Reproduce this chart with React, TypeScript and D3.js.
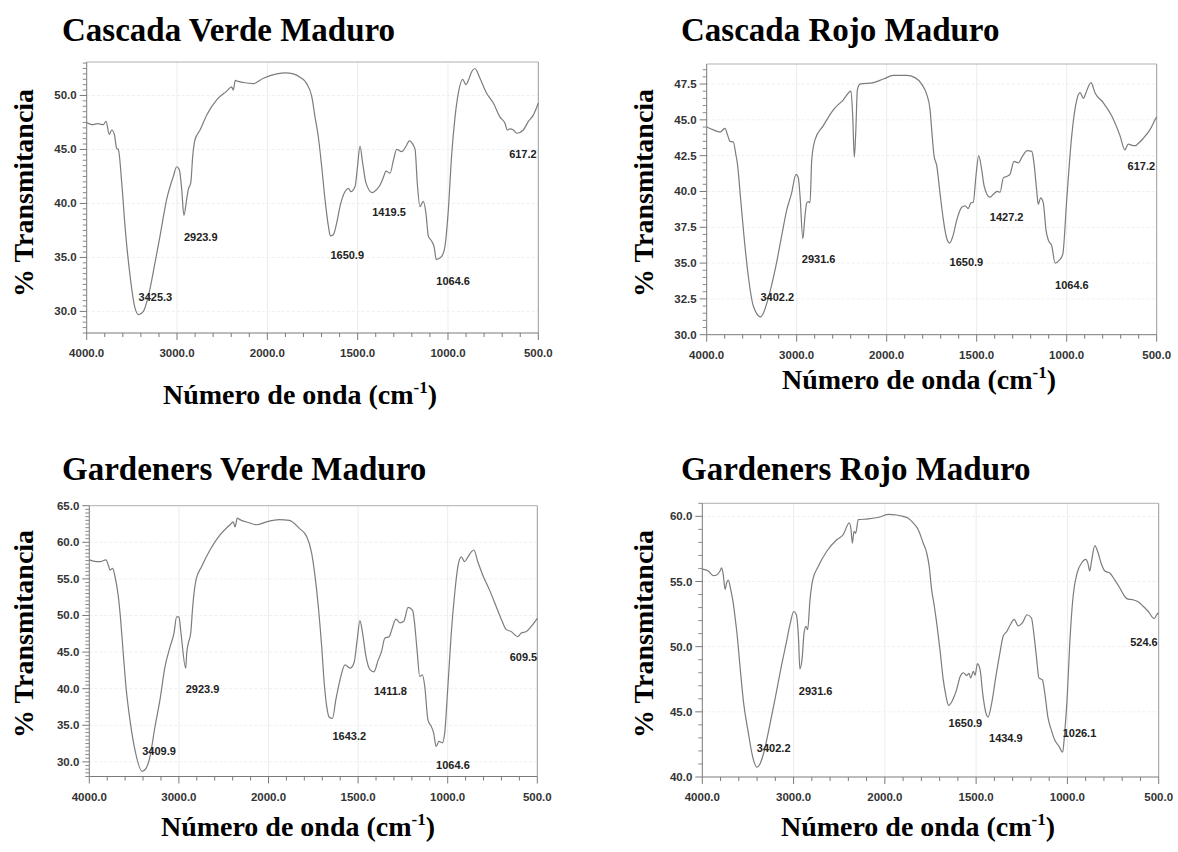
import React from 'react';
import * as d3 from 'd3';

type Pt = [number, number];

// FTIR spectra: [wavenumber (cm-1), % transmittance]
const cascadaVerde: Pt[] = [
  [4000, 47.5], [3940, 47.3], [3880, 47.4], [3816, 47.3], [3786, 47.6], [3750, 46.4], [3723, 46.8],
  [3694, 46.4], [3668, 45.1], [3650, 45.0], [3612, 41.9], [3576, 37.9], [3520, 33.3], [3465, 30.3],
  [3425.3, 29.7], [3373, 30.0], [3318, 31.4], [3244, 34.5], [3188, 37.0], [3114, 40.4], [3041, 42.5],
  [3003, 43.4], [2974, 43.1], [2948, 41.3], [2923.9, 38.9], [2893, 40.4], [2875, 41.3], [2848, 41.9],
  [2826, 44.4], [2801, 45.9], [2745, 46.8], [2671, 48.2], [2561, 49.6], [2450, 50.4], [2395, 50.8],
  [2377, 50.5], [2355, 51.4], [2322, 51.3], [2267, 51.2], [2155, 51.1], [2044, 51.6], [1948, 52.0],
  [1900, 52.1], [1856, 52.0], [1815, 51.65], [1782, 51.1], [1754, 49.9], [1736, 48.0], [1718, 46.2],
  [1699, 43.4], [1681, 40.4], [1662, 37.9], [1650.9, 37.0], [1635, 37.1], [1616, 38.2], [1598, 39.7],
  [1570, 41.1], [1551, 41.4], [1538, 41.1], [1514, 41.6], [1501, 43.4], [1487, 45.3], [1472, 43.7],
  [1454, 41.9], [1419.5, 41.0], [1394, 41.3], [1376, 41.7], [1358, 42.4], [1343, 43.0], [1321, 42.8],
  [1302, 44.0], [1284, 45.0], [1256, 44.8], [1232, 45.3], [1214, 45.8], [1192, 45.4], [1182, 45.0],
  [1170, 41.9], [1155, 39.7], [1137, 40.2], [1122, 39.1], [1109, 37.0], [1090, 36.5], [1077, 36.0],
  [1064.6, 34.8], [1035, 35.1], [1017, 36.0], [998, 39.4], [980, 44.4], [961, 48.0], [943, 50.2],
  [919, 51.5], [900, 51.0], [887, 51.4], [869, 52.2], [851, 52.5], [823, 51.6], [786, 50.2],
  [749, 49.3], [712, 48.0], [684, 47.4], [672, 46.8], [657, 46.9], [638, 46.8], [617.2, 46.5],
  [583, 46.8], [555, 47.6], [527, 48.2], [500, 49.3],
];

const cascadaRojo: Pt[] = [
  [4000, 44.5], [3926, 44.3], [3852, 44.15], [3797, 44.4], [3771, 44.0], [3741, 43.5], [3704, 43.45],
  [3674, 42.5], [3660, 42.0], [3622, 39.4], [3586, 36.9], [3538, 34.1], [3482, 32.0], [3402.2, 31.25],
  [3371, 31.5], [3316, 32.55], [3241, 34.5], [3167, 36.9], [3111, 38.7], [3056, 39.9], [3008, 41.2],
  [2982, 40.95], [2963, 39.7], [2931.6, 36.7], [2908, 38.3], [2889, 39.2], [2871, 39.3], [2852, 39.2],
  [2833, 42.2], [2797, 43.6], [2704, 44.6], [2593, 45.7], [2482, 46.4], [2397, 47.0], [2378, 45.3],
  [2360, 42.4], [2344, 44.1], [2326, 47.1], [2297, 47.5], [2149, 47.6], [2038, 47.85], [1963, 48.1],
  [1889, 48.1], [1843, 47.95], [1806, 47.5], [1778, 46.8], [1759, 45.7], [1750, 44.3], [1737, 42.5],
  [1722, 41.8], [1704, 39.9], [1685, 38.0], [1667, 36.75], [1650.9, 36.4], [1633, 36.85], [1611, 38.0],
  [1583, 38.9], [1565, 39.0], [1547, 38.8], [1533, 39.2], [1519, 39.25], [1504, 41.1], [1489, 42.5],
  [1472, 41.5], [1459, 40.4], [1427.2, 39.6], [1408, 39.8], [1386, 40.0], [1370, 39.95], [1352, 40.95],
  [1333, 41.05], [1315, 41.2], [1293, 42.1], [1269, 42.0], [1244, 42.5], [1219, 42.85], [1194, 42.8],
  [1182, 42.0], [1167, 40.1], [1158, 39.1], [1145, 39.55], [1130, 39.2], [1115, 37.3], [1102, 36.6],
  [1083, 36.2], [1064.6, 35.0], [1041, 35.2], [1022, 35.6], [1000, 39.4], [972, 43.9], [944, 46.4],
  [926, 46.9], [907, 46.5], [893, 46.9], [865, 47.6], [843, 46.9], [797, 46.2], [751, 45.3],
  [704, 43.9], [677, 42.9], [658, 43.3], [631, 43.2], [617.2, 43.2], [603, 43.35], [575, 43.7],
  [538, 44.3], [505, 45.1], [500, 45.2],
];

const gardenersVerde: Pt[] = [
  [4000, 57.6], [3940, 57.4], [3881, 57.35], [3814, 57.6], [3788, 56.9], [3769, 56.2], [3739, 56.45],
  [3713, 55.3], [3676, 52.6], [3650, 49.4], [3621, 44.8], [3591, 40.3], [3546, 35.7], [3490, 31.6],
  [3409.9, 28.7], [3367, 29.1], [3323, 30.7], [3267, 34.8], [3211, 38.5], [3155, 43.0], [3099, 45.7],
  [3055, 47.6], [3025, 49.8], [2999, 49.8], [2977, 47.6], [2923.9, 42.8], [2913, 44.8], [2895, 46.2],
  [2868, 47.6], [2846, 51.2], [2809, 54.85], [2746, 56.7], [2653, 58.95], [2541, 61.0], [2430, 62.4],
  [2393, 62.8], [2374, 62.1], [2348, 63.3], [2319, 63.1], [2226, 62.7], [2132, 62.4], [2021, 62.8],
  [1940, 63.1], [1884, 63.0], [1828, 61.9], [1787, 60.8], [1759, 58.5], [1740, 55.3], [1722, 51.2],
  [1703, 45.7], [1689, 40.75], [1675, 37.55], [1661, 36.1], [1643.2, 35.95], [1624, 38.5], [1601, 41.2],
  [1573, 43.25], [1545, 42.8], [1523, 43.5], [1505, 46.7], [1490, 49.3], [1475, 47.6], [1456, 44.4],
  [1434, 42.6], [1411.8, 42.3], [1388, 43.9], [1369, 45.1], [1351, 46.9], [1327, 47.1], [1313, 48.0],
  [1289, 49.5], [1267, 49.0], [1245, 49.2], [1221, 51.1], [1196, 50.7], [1187, 49.4], [1171, 45.3],
  [1156, 41.65], [1141, 41.9], [1128, 40.3], [1110, 35.7], [1091, 34.8], [1078, 33.9], [1064.6, 32.1],
  [1049, 32.8], [1030, 32.6], [1017, 33.9], [999, 40.3], [980, 47.6], [961, 53.0], [943, 56.7],
  [924, 58.0], [906, 57.35], [887, 58.0], [868, 58.7], [854, 58.95], [832, 57.35], [804, 55.5],
  [767, 53.5], [729, 51.2], [696, 49.2], [674, 48.1], [646, 47.8], [609.5, 47.1], [590, 47.6],
  [562, 47.8], [534, 48.5], [500, 49.6],
];

const gardenersRojo: Pt[] = [
  [4000, 55.95], [3934, 55.8], [3880, 55.45], [3842, 55.5], [3806, 55.8], [3788, 56.05], [3770, 55.5],
  [3751, 54.4], [3733, 54.9], [3715, 55.1], [3689, 54.4], [3660, 53.3], [3642, 52.3], [3623, 51.2],
  [3587, 48.5], [3551, 45.9], [3496, 43.4], [3448, 41.55], [3402.2, 40.75], [3376, 40.9], [3329, 41.8],
  [3263, 43.9], [3197, 46.2], [3134, 48.5], [3080, 50.3], [3036, 51.8], [2999, 52.7], [2970, 52.45],
  [2945, 50.5], [2931.6, 48.3], [2905, 49.2], [2886, 51.0], [2864, 51.55], [2846, 51.3], [2820, 53.6],
  [2791, 55.1], [2730, 56.15], [2638, 57.3], [2528, 58.2], [2456, 58.6], [2390, 59.5], [2371, 59.0],
  [2356, 57.95], [2338, 58.85], [2320, 58.7], [2291, 59.75], [2182, 59.8], [2054, 59.95], [1980, 60.15],
  [1935, 60.1], [1900, 60.0], [1872, 59.85], [1845, 59.5], [1817, 58.97], [1790, 57.95], [1771, 57.2],
  [1757, 56.15], [1744, 54.4], [1729, 53.1], [1716, 51.8], [1698, 49.75], [1680, 47.45], [1665, 46.2],
  [1650.9, 45.5], [1629, 45.9], [1607, 46.7], [1588, 47.7], [1570, 48.0], [1552, 47.8], [1539, 47.95],
  [1530, 47.6], [1515, 48.1], [1506, 47.8], [1493, 48.7], [1478, 48.2], [1464, 46.4], [1446, 44.9],
  [1434.9, 44.6], [1415, 45.65], [1392, 47.7], [1370, 49.5], [1352, 50.8], [1333, 51.15], [1312, 51.7],
  [1292, 52.1], [1270, 51.6], [1246, 51.85], [1221, 52.45], [1197, 52.2], [1184, 51.0], [1170, 49.25],
  [1156, 47.6], [1137, 47.45], [1125, 46.55], [1107, 44.6], [1088, 43.6], [1070, 42.85], [1046, 42.35],
  [1026.1, 41.9], [1015, 43.4], [1002, 45.9], [987, 50.3], [969, 53.85], [947, 55.65], [923, 56.4],
  [900, 56.7], [887, 56.35], [878, 55.8], [868, 56.55], [850, 57.75], [832, 57.2], [813, 56.3],
  [795, 55.8], [768, 55.65], [740, 55.1], [713, 54.5], [686, 53.85], [668, 53.65], [641, 53.6],
  [613, 53.45], [585, 53.1], [557, 52.7], [524.6, 52.15], [511, 52.45], [500, 52.6],
];

// Labelled band positions (cm-1)
const cascadaVerdePeaks = [3425.3, 2923.9, 1650.9, 1419.5, 1064.6, 617.2];
const cascadaRojoPeaks = [3402.2, 2931.6, 1650.9, 1427.2, 1064.6, 617.2];
const gardenersVerdePeaks = [3409.9, 2923.9, 1643.2, 1411.8, 1064.6, 609.5];
const gardenersRojoPeaks = [3402.2, 2931.6, 1650.9, 1434.9, 1026.1, 524.6];

// Axis ticks
const xMajorTicks = [4000, 3000, 2000, 1500, 1000, 500];
const cascadaVerdeYTicks = [30, 35, 40, 45, 50];
const cascadaRojoYTicks = [30, 32.5, 35, 37.5, 40, 42.5, 45, 47.5];
const gardenersVerdeYTicks = [30, 35, 40, 45, 50, 55, 60, 65];
const gardenersRojoYTicks = [40, 45, 50, 55, 60];

const titles = ['Cascada Verde Maduro', 'Cascada Rojo Maduro', 'Gardeners Verde Maduro', 'Gardeners Rojo Maduro'];

const panels = [
  {
    title: titles[0], data: cascadaVerde, peaks: cascadaVerdePeaks, yTicks: cascadaVerdeYTicks,
    yDomain: [28, 53.1], yMinor: 0.5,
    box: { left: 86.7, right: 538.3, top: 62, bottom: 333 },
    titlePos: [62, 41], yLabel: [33, 193], xLabel: [300, 404],
    labelOffsets: [[0, -18], [0, 22], [0, 19], [0, 19], [0, 21], [-8, 21]],
  },
  {
    title: titles[1], data: cascadaRojo, peaks: cascadaRojoPeaks, yTicks: cascadaRojoYTicks,
    yDomain: [30, 48.9], yMinor: 0.5,
    box: { left: 706.7, right: 1156.7, top: 64, bottom: 334.7 },
    titlePos: [681, 41], yLabel: [653, 193], xLabel: [919, 389],
    labelOffsets: [[0, -20], [-1, 20], [0, 19], [0, 20], [0, 22], [-8, 20]],
  },
  {
    title: titles[2], data: gardenersVerde, peaks: gardenersVerdePeaks, yTicks: gardenersVerdeYTicks,
    yDomain: [28, 65], yMinor: 0.5,
    box: { left: 89.3, right: 537.3, top: 505.7, bottom: 776.5 },
    titlePos: [62, 480], yLabel: [33, 634], xLabel: [298, 836],
    labelOffsets: [[0, -20], [0, 21], [0, 18], [0, 19], [0, 19], [-8, 20]],
  },
  {
    title: titles[3], data: gardenersRojo, peaks: gardenersRojoPeaks, yTicks: gardenersRojoYTicks,
    yDomain: [40, 61], yMinor: 1,
    box: { left: 702.3, right: 1158.7, top: 503.3, bottom: 777 },
    titlePos: [681, 480], yLabel: [653, 634], xLabel: [918, 836],
    labelOffsets: [[0, -19], [-1, 22], [0, 18], [1, 21], [0, -19], [-24, 23]],
  },
];

const serif = '"Liberation Serif", "Times New Roman", serif';
const sans = '"Liberation Sans", Arial, sans-serif';
const fmt = d3.format('.1f');

function valueAt(data: Pt[], wn: number): number {
  for (let i = 0; i < data.length - 1; i++) {
    const [a, va] = data[i];
    const [b, vb] = data[i + 1];
    if (wn <= a && wn >= b) {
      const t = a === b ? 0 : (a - wn) / (a - b);
      return va + t * (vb - va);
    }
  }
  return data[data.length - 1][1];
}

function Panel({ p }: { p: (typeof panels)[number] }) {
  const { left, right, top, bottom } = p.box;
  const w = right - left;
  // Wavenumber axis with the usual scale change at 2000 cm-1
  const x = d3.scaleLinear().domain([4000, 2000, 500]).range([left, left + 0.4 * w, right]);
  const y = d3.scaleLinear().domain(p.yDomain).range([bottom, top]);
  const line = d3.line<Pt>().x((d) => x(d[0])).y((d) => y(d[1])).curve(d3.curveMonotoneX);

  const xMinor = [...d3.range(4000, 2000, -200), ...d3.range(2000, 500, -100)].filter(
    (v) => !xMajorTicks.includes(v)
  );
  const yMinor = d3
    .range(Math.ceil(p.yDomain[0] / p.yMinor) * p.yMinor, p.yDomain[1] + 1e-6, p.yMinor)
    .filter((v) => !p.yTicks.some((t) => Math.abs(t - v) < 1e-6));

  return (
    <g>
      <text x={p.titlePos[0]} y={p.titlePos[1]} fontFamily={serif} fontWeight="bold" fontSize={33} fill="#000">
        {p.title}
      </text>

      {/* faint grid */}
      {xMajorTicks.slice(1, -1).map((t) => (
        <line key={'gx' + t} x1={x(t)} x2={x(t)} y1={top} y2={bottom} stroke="#ececec" strokeWidth={1} />
      ))}
      {p.yTicks
        .filter((t) => y(t) > top + 2 && y(t) < bottom - 2)
        .map((t) => (
          <line key={'gy' + t} x1={left} x2={right} y1={y(t)} y2={y(t)} stroke="#efefef" strokeWidth={1} strokeDasharray="3,2" />
        ))}

      {/* frame */}
      <line x1={left} x2={right} y1={top} y2={top} stroke="#b0b0b0" strokeWidth={1} />
      <line x1={right} x2={right} y1={top} y2={bottom} stroke="#9a9a9a" strokeWidth={1} />
      <line x1={left} x2={right} y1={bottom} y2={bottom} stroke="#7a7a7a" strokeWidth={1} />
      <line x1={left} x2={left} y1={top} y2={bottom} stroke="#7a7a7a" strokeWidth={1} />

      {/* x ticks */}
      {xMajorTicks.map((t) => (
        <g key={'xt' + t}>
          <line x1={x(t)} x2={x(t)} y1={bottom} y2={bottom + 7} stroke="#7a7a7a" />
          <text x={x(t)} y={bottom + 24} textAnchor="middle" fontFamily={sans} fontWeight="bold" fontSize={11.5} fill="#333">
            {fmt(t)}
          </text>
        </g>
      ))}
      {xMinor.map((t) => (
        <line key={'xm' + t} x1={x(t)} x2={x(t)} y1={bottom} y2={bottom + 4} stroke="#7a7a7a" />
      ))}

      {/* y ticks */}
      {p.yTicks.map((t) => (
        <g key={'yt' + t}>
          <line x1={left - 7} x2={left} y1={y(t)} y2={y(t)} stroke="#7a7a7a" />
          <text x={left - 10} y={y(t) + 4} textAnchor="end" fontFamily={sans} fontWeight="bold" fontSize={11.5} fill="#333">
            {fmt(t)}
          </text>
        </g>
      ))}
      {yMinor.map((t) => (
        <line key={'ym' + t} x1={left - 4} x2={left} y1={y(t)} y2={y(t)} stroke="#8a8a8a" />
      ))}

      {/* spectrum */}
      <path d={line(p.data) ?? ''} fill="none" stroke="#7c7c7c" strokeWidth={1.2} />

      {/* band labels */}
      {p.peaks.map((wn, i) => {
        const [dx, dy] = p.labelOffsets[i];
        return (
          <text key={'pk' + i} x={x(wn) + dx} y={y(valueAt(p.data, wn)) + dy + 4} fontFamily={sans} fontWeight="bold" fontSize={11} fill="#222">
            {fmt(wn)}
          </text>
        );
      })}

      {/* axis titles */}
      <text transform={`translate(${p.yLabel[0]},${p.yLabel[1]}) rotate(-90)`} textAnchor="middle" fontFamily={serif} fontWeight="bold" fontSize={28} fill="#000">
        % Transmitancia
      </text>
      <text x={p.xLabel[0]} y={p.xLabel[1]} textAnchor="middle" fontFamily={serif} fontWeight="bold" fontSize={28} fill="#000">
        Número de onda (cm<tspan dy={-11} fontSize={17}>-1</tspan>
        <tspan dy={11}>)</tspan>
      </text>
    </g>
  );
}

export default function App() {
  return (
    <svg width={1178} height={852} style={{ position: 'absolute', left: 0, top: 0, background: '#fff' }}>
      <rect width={1178} height={852} fill="#fff" />
      {panels.map((p) => (
        <Panel key={p.title} p={p} />
      ))}
    </svg>
  );
}
